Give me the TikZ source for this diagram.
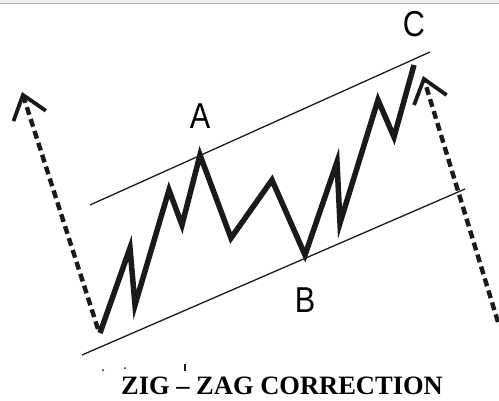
\documentclass[tikz,border=0pt]{standalone}
\usepackage{fontspec}
\usepackage{tikz}
\usetikzlibrary{arrows.meta, positioning}
\setmainfont{Liberation Serif}
\newfontfamily\labelfont[FakeStretch=0.85]{Liberation Sans}
\definecolor{wavegray}{HTML}{1A1A1A}

\begin{document}
\begin{tikzpicture}[
  x=1pt, y=-1pt,
  wave/.style = {line width=5.5pt, color=wavegray, line join=miter, miter limit=20},
  channel/.style = {line width=1.3pt, color=wavegray},
  trend/.style = {
    line width=4.4pt, color=wavegray, dash pattern=on 8pt off 4.5pt,
    -{Straight Barb[length=22pt, width=34pt, line width=3.8pt]}
  },
  lbl/.style = {font=\labelfont\fontsize{36}{36}\selectfont, inner sep=0pt},
  caption/.style = {font=\bfseries\fontsize{26.5}{28}\selectfont, inner sep=0pt}
]
  \useasboundingbox (0,0) rectangle (499,400);
  \fill[gray!12] (0,0) rectangle (499,3);
  \draw[gray!60, line width=1pt] (0,3.5) -- (499,3.5);

  % channel lines
  \coordinate (upL) at (90,205);
  \coordinate (upR) at (430,52);
  \coordinate (loL) at (82,355);
  \coordinate (loR) at (465,189);
  \draw[channel] (upL) -- (upR);
  \draw[channel] (loL) -- (loR);

  % the zigzag
  \coordinate (start) at (100,333);
  \coordinate (A) at (200,155);
  \coordinate (B) at (305,255);
  \coordinate (C) at (414,65);
  \draw[wave] (start) -- (130,248) -- (135,305) -- (169,190) -- (182,225)
    -- (A) -- (231,238) -- (272,180) -- (B) -- (337,162) -- (340,223)
    -- (378,100) -- (394,137) -- (C);

  % trend arrows
  \coordinate (tipL) at (22,92);
  \coordinate (tailR) at (498,322);
  \coordinate (tipR) at (423,76);
  \draw[trend] ([shift={(-2,-4)}]start) -- (tipL);
  \draw[trend] (tailR) -- (tipR);

  \node[lbl, above=26pt of A] (labA) {A};
  \node[lbl, below=33pt of B] (labB) {B};
  \node[lbl, above=28pt of C] (labC) {C};

  \fill[wavegray] (103,370) circle (1pt);
  \fill[wavegray] (125,368) circle (1pt);
  \fill[wavegray] (184,364) rectangle (186,371);

  \node[caption] (title) at (282,386) {ZIG -- ZAG CORRECTION};
\end{tikzpicture}
\end{document}
